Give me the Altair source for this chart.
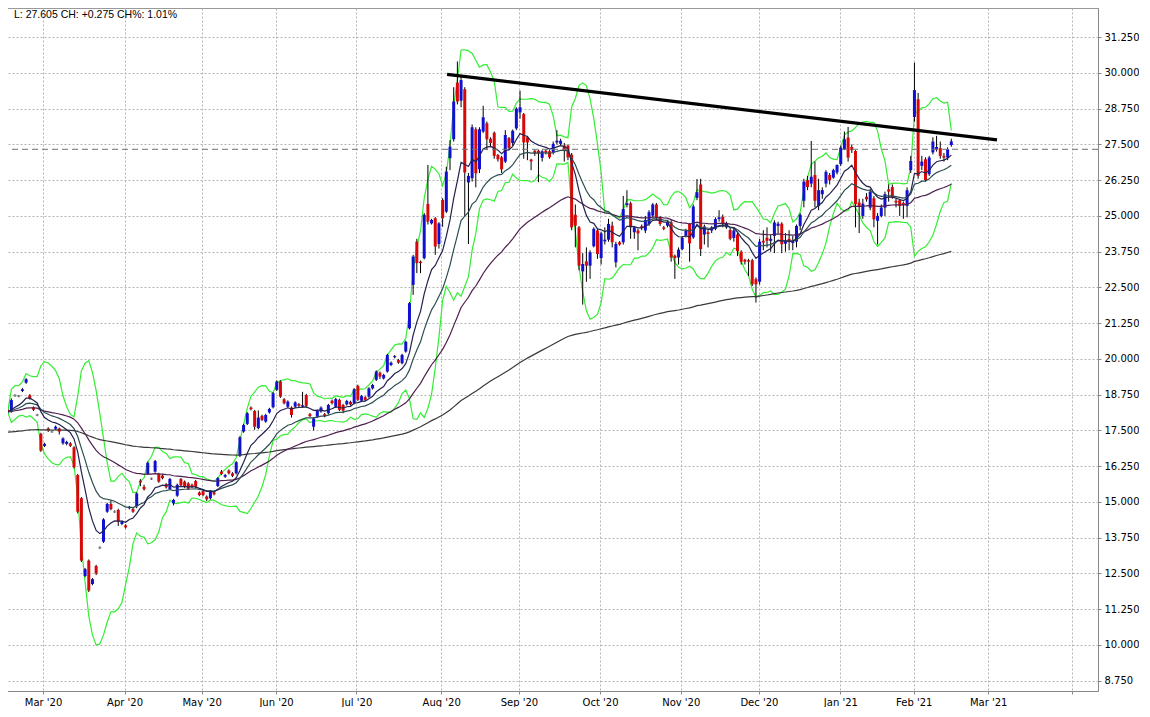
import json
import altair as alt
import pandas as pd

# ---- candle data, one entry per trading day ----
OPEN = [
    18.22, 18.16, 18.72, 18.70, 18.88, 19.17, 18.73, 18.30, 18.04, 17.38,
    16.96, 17.57, 17.46, 17.56, 17.57, 17.05, 17.03, 17.05, 16.91, 15.94,
    15.13, 12.41, 12.95, 12.13, 12.76, 13.40, 13.61, 14.66, 14.93, 14.66,
    14.72, 14.23, 14.18, 14.78, 14.75, 14.86, 15.74, 15.53, 15.98, 15.81,
    16.06, 15.98, 15.92, 15.62, 15.45, 14.95, 15.22, 15.80, 15.71, 15.65,
    15.60, 15.73, 15.33, 15.38, 15.19, 15.13, 15.33, 15.56, 16.06, 15.88,
    16.10, 16.00, 16.00, 16.61, 17.46, 17.73, 18.30, 18.18, 17.58, 18.01,
    17.81, 18.13, 18.31, 18.92, 19.21, 18.59, 18.33, 18.30, 18.33, 18.42,
    18.33, 18.74, 18.07, 17.63, 17.98, 18.16, 18.07, 18.10, 18.54, 18.33,
    18.57, 18.39, 18.41, 18.50, 18.45, 19.06, 18.54, 18.66, 18.68, 18.97,
    19.27, 19.52, 19.32, 19.56, 19.79, 20.06, 19.96, 19.85, 20.26, 21.07,
    22.59, 24.10, 23.40, 23.52, 25.42, 24.74, 24.92, 24.02, 25.56, 25.15,
    27.02, 27.68, 29.66, 29.03, 29.43, 26.17, 26.32, 28.03, 26.63, 27.95,
    28.24, 27.70, 27.91, 27.13, 27.05, 26.90, 27.72, 27.55, 28.06, 28.62,
    28.56, 27.75, 26.97, 27.28, 27.28, 27.03, 27.28, 27.26, 27.22, 27.57,
    27.52, 27.46, 27.46, 27.14, 25.04, 24.60, 23.06, 23.41, 23.26, 23.94,
    24.49, 23.53, 24.11, 24.17, 24.66, 23.38, 24.08, 24.08, 25.38, 25.44,
    24.43, 24.49, 24.64, 24.49, 24.72, 25.01, 25.40, 24.95, 24.60, 24.66,
    24.78, 23.61, 23.55, 23.84, 24.31, 24.72, 24.25, 25.63, 26.10, 24.35,
    24.43, 24.49, 24.55, 24.89, 24.97, 24.60, 24.51, 24.23, 24.35, 23.75,
    23.47, 23.45, 23.45, 22.79, 22.70, 24.13, 24.24, 24.13, 24.30, 24.65,
    24.73, 24.03, 24.20, 24.05, 24.10, 24.65, 25.53, 26.25, 26.13, 26.43,
    25.35, 25.76, 26.13, 26.43, 26.34, 26.52, 26.81, 27.33, 27.74, 27.41,
    27.27, 25.47, 25.00, 25.67, 25.29, 25.62, 24.83, 25.00, 25.29, 25.93,
    26.01, 25.53, 25.55, 25.45, 25.35, 26.60, 28.46, 29.08, 26.75, 26.98,
    26.46, 27.22, 27.33, 27.37, 27.10, 27.04, 27.48,
]
HIGH = [
    18.28, 18.62, 18.76, 18.74, 18.98, 19.33, 18.77, 18.34, 18.08, 17.42,
    17.07, 17.61, 17.50, 17.67, 17.60, 17.26, 17.14, 17.09, 16.95, 15.98,
    15.17, 12.69, 12.99, 12.34, 12.80, 13.44, 14.43, 14.97, 15.05, 14.70,
    14.76, 14.35, 14.22, 14.86, 14.79, 15.34, 15.80, 15.60, 16.41, 15.85,
    16.47, 16.02, 15.96, 15.66, 15.84, 15.11, 15.64, 15.84, 15.75, 15.69,
    15.64, 15.77, 15.37, 15.42, 15.23, 15.42, 15.37, 15.87, 16.12, 15.98,
    16.14, 16.04, 16.43, 17.30, 17.73, 18.14, 18.34, 18.22, 18.20, 18.05,
    18.08, 18.29, 18.84, 19.25, 19.25, 18.63, 18.55, 18.34, 18.52, 18.46,
    18.85, 18.78, 18.11, 17.96, 18.23, 18.34, 18.11, 18.43, 18.58, 18.64,
    18.61, 18.43, 18.57, 18.54, 18.98, 19.10, 18.74, 18.70, 19.01, 19.13,
    19.60, 19.56, 19.48, 20.18, 19.91, 20.14, 20.00, 20.18, 20.64, 21.99,
    23.64, 24.20, 23.44, 25.10, 26.78, 24.90, 24.96, 24.78, 25.62, 26.72,
    27.65, 29.50, 30.40, 29.90, 29.50, 26.50, 28.20, 28.10, 28.10, 28.85,
    28.30, 27.75, 27.95, 27.17, 27.10, 28.00, 27.76, 28.02, 28.80, 29.38,
    28.60, 27.80, 27.00, 27.30, 27.32, 27.30, 27.32, 27.30, 27.60, 28.00,
    27.70, 27.55, 27.50, 27.20, 25.40, 24.65, 23.70, 23.90, 23.80, 24.60,
    24.55, 24.45, 24.60, 24.90, 24.80, 24.10, 24.12, 25.70, 25.90, 25.50,
    24.65, 24.55, 24.70, 25.00, 25.20, 25.45, 25.45, 25.00, 24.65, 24.85,
    24.85, 23.65, 23.90, 24.30, 24.55, 24.75, 25.40, 26.29, 26.30, 24.70,
    24.50, 24.65, 24.95, 25.20, 25.05, 24.80, 24.60, 24.60, 24.40, 23.80,
    23.50, 23.50, 23.50, 22.85, 24.20, 24.50, 24.60, 24.35, 24.85, 24.80,
    24.78, 24.40, 24.50, 24.30, 24.70, 25.10, 26.30, 26.40, 27.62, 26.90,
    26.30, 26.00, 26.60, 26.50, 26.65, 26.80, 27.45, 27.95, 28.11, 27.50,
    27.30, 25.60, 25.60, 25.80, 25.95, 25.70, 25.10, 25.40, 25.85, 26.10,
    26.10, 25.60, 25.60, 25.50, 26.00, 27.10, 30.36, 29.30, 27.10, 27.05,
    27.10, 27.75, 27.80, 27.60, 27.20, 27.40, 27.70,
]
LOW = [
    18.08, 18.12, 18.68, 18.66, 18.84, 19.13, 18.58, 18.18, 18.00, 16.75,
    16.92, 17.45, 17.42, 17.52, 17.36, 17.00, 16.98, 16.92, 16.17, 14.60,
    12.90, 12.37, 11.85, 12.09, 12.44, 13.36, 13.57, 14.62, 14.71, 14.62,
    14.16, 14.19, 14.07, 14.74, 14.62, 14.78, 15.55, 15.40, 15.94, 15.77,
    16.02, 15.67, 15.79, 15.47, 15.41, 14.88, 15.18, 15.54, 15.49, 15.42,
    15.49, 15.49, 15.20, 15.20, 15.03, 15.09, 15.23, 15.52, 15.94, 15.84,
    15.96, 15.87, 15.96, 16.57, 17.42, 17.69, 18.20, 17.52, 17.54, 17.83,
    17.77, 18.09, 18.27, 18.88, 18.64, 18.41, 18.29, 17.95, 18.29, 18.32,
    18.29, 18.30, 17.96, 17.50, 17.94, 18.12, 17.96, 18.06, 18.41, 18.29,
    18.18, 18.10, 18.37, 18.37, 18.41, 18.53, 18.50, 18.53, 18.64, 18.93,
    19.23, 19.30, 19.28, 19.52, 19.75, 20.02, 19.83, 19.81, 20.22, 21.03,
    22.24, 23.00, 23.00, 23.48, 24.70, 24.70, 23.64, 23.86, 24.62, 25.10,
    26.60, 27.60, 28.90, 28.80, 25.00, 24.02, 26.20, 26.00, 26.50, 27.90,
    27.30, 27.40, 27.00, 26.90, 26.50, 26.85, 27.30, 27.45, 28.00, 28.40,
    27.00, 26.95, 26.60, 27.10, 26.18, 26.90, 27.15, 27.00, 27.15, 27.50,
    27.45, 26.90, 26.95, 24.50, 23.90, 23.10, 21.90, 22.70, 22.80, 23.90,
    23.50, 23.30, 24.00, 24.10, 23.90, 23.20, 23.96, 24.00, 25.30, 24.20,
    24.20, 23.80, 24.50, 24.40, 24.65, 24.95, 24.85, 24.65, 24.50, 24.60,
    23.40, 22.80, 23.30, 23.80, 24.25, 23.40, 24.20, 25.55, 23.60, 24.00,
    23.90, 24.40, 24.50, 24.80, 24.60, 24.55, 24.15, 24.10, 23.60, 23.30,
    23.30, 22.90, 22.55, 21.97, 22.60, 23.80, 23.90, 23.75, 23.70, 24.40,
    23.70, 23.75, 23.80, 23.80, 23.90, 24.50, 25.30, 25.90, 26.00, 25.30,
    25.20, 25.60, 26.00, 26.10, 26.30, 26.45, 26.75, 27.30, 26.90, 27.20,
    24.60, 24.40, 24.90, 25.50, 25.20, 24.60, 24.00, 24.95, 25.00, 25.50,
    25.60, 25.30, 25.00, 24.90, 24.95, 26.50, 28.30, 26.30, 26.60, 26.20,
    26.40, 27.15, 27.25, 27.00, 26.90, 26.95, 27.42,
]
CLOSE = [
    18.15, 18.56, 18.72, 18.70, 18.94, 19.29, 18.62, 18.22, 18.04, 16.79,
    17.03, 17.49, 17.46, 17.63, 17.46, 17.22, 17.10, 16.96, 16.21, 14.66,
    12.95, 12.65, 11.90, 12.30, 12.50, 13.40, 14.39, 14.93, 14.75, 14.66,
    14.31, 14.31, 14.11, 14.82, 14.66, 15.30, 15.68, 15.44, 16.37, 15.81,
    16.43, 15.71, 15.83, 15.51, 15.80, 15.07, 15.60, 15.58, 15.53, 15.46,
    15.53, 15.53, 15.24, 15.24, 15.09, 15.38, 15.27, 15.83, 15.98, 15.94,
    16.00, 15.91, 16.39, 17.26, 17.69, 18.10, 18.24, 17.63, 17.95, 17.87,
    18.04, 18.25, 18.80, 19.21, 18.68, 18.45, 18.51, 18.04, 18.48, 18.36,
    18.38, 18.36, 18.00, 17.92, 18.19, 18.30, 18.00, 18.39, 18.45, 18.60,
    18.22, 18.19, 18.53, 18.41, 18.94, 18.57, 18.70, 18.57, 18.97, 19.09,
    19.56, 19.38, 19.44, 20.14, 19.87, 20.10, 19.87, 20.14, 20.60, 21.95,
    23.58, 23.35, 23.35, 25.04, 24.80, 24.86, 23.93, 24.74, 24.92, 26.55,
    27.42, 29.00, 29.00, 29.75, 26.52, 26.40, 28.10, 26.49, 28.03, 28.45,
    27.68, 27.55, 27.10, 26.98, 26.63, 27.83, 27.38, 27.98, 28.75, 28.80,
    27.57, 27.57, 26.91, 27.19, 27.19, 27.26, 27.22, 27.05, 27.52, 27.63,
    27.63, 27.28, 27.05, 24.60, 24.66, 23.26, 23.32, 23.26, 23.73, 24.55,
    23.67, 24.39, 24.17, 24.72, 24.08, 24.02, 24.00, 25.24, 25.44, 24.60,
    24.60, 24.39, 24.58, 24.86, 25.13, 25.40, 24.93, 24.72, 24.55, 24.78,
    23.55, 23.53, 23.82, 24.23, 24.49, 24.04, 25.33, 25.83, 23.84, 24.63,
    24.37, 24.60, 24.89, 24.95, 24.72, 24.72, 24.20, 24.49, 23.77, 23.40,
    23.40, 23.40, 22.61, 22.61, 24.10, 24.07, 24.13, 24.20, 24.77, 24.73,
    24.01, 24.13, 24.08, 24.12, 24.65, 25.04, 26.20, 26.01, 26.37, 25.53,
    25.90, 25.90, 26.54, 26.25, 26.60, 26.78, 27.39, 27.68, 27.04, 27.30,
    25.41, 25.32, 25.43, 25.58, 25.85, 24.88, 25.00, 25.29, 25.76, 25.85,
    25.64, 25.47, 25.35, 25.38, 25.90, 26.92, 29.40, 26.40, 26.90, 26.25,
    27.04, 27.60, 27.41, 27.10, 27.04, 27.33, 27.605,
]

# ---- axis ticks / labels ----
MONTH_TICKS = [9.6, 31.7, 52.6, 72.8, 94.6, 117.6, 138.7, 160.7, 182.6,
               203.8, 225.9, 245.8, 266.0, 288.8]
MONTH_LABELS = ["Mar '20", "Apr '20", "May '20", "Jun '20", "Jul '20",
                "Aug '20", "Sep '20", "Oct '20", "Nov '20", "Dec '20",
                "Jan '21", "Feb '21", "Mar '21", ""]
Y_TICKS = [8.75, 10.0, 11.25, 12.5, 13.75, 15.0, 16.25, 17.5, 18.75, 20.0,
           21.25, 22.5, 23.75, 25.0, 26.25, 27.5, 28.75, 30.0, 31.25]

# ---- header / annotations ----
LAST = 27.605
CHANGE = 0.275
CHANGE_PCT = 1.01
TREND_X = [119.2, 268.4]
TREND_Y = [29.95, 27.66]
EMA200_START = 17.43   # first value of the slow average

# ---- indicators derived from the closes ----
def ema(vals, span, seed):
    a = 2.0 / (span + 1.0)
    e = seed
    out = []
    for v in vals:
        e = e + a * (v - e)
        out.append(e)
    return out

n = len(CLOSE)
s = pd.Series(CLOSE)
bb_mid = s.rolling(10, min_periods=1).mean()
bb_sd = s.rolling(10, min_periods=2).std().fillna(0.0)

df = pd.DataFrame({
    "i": list(range(n)),
    "open": OPEN, "high": HIGH, "low": LOW, "close": CLOSE,
})
df["dir"] = ["up" if c > o else ("down" if c < o else "flat")
             for o, c in zip(OPEN, CLOSE)]
df["ema10"] = ema(CLOSE, 10, CLOSE[0])
df["ema20"] = ema(CLOSE, 20, CLOSE[0])
df["ema50"] = ema(CLOSE, 50, CLOSE[0])
df["ema200"] = ema(CLOSE, 200, EMA200_START)
df["bb_up"] = bb_mid + 2 * bb_sd
df["bb_lo"] = bb_mid - 2 * bb_sd

W, H = 1097, 683
xscale = alt.Scale(domain=[-0.457, 294.44], nice=False, zero=False)
yscale = alt.Scale(domain=[8.39, 32.27], nice=False, zero=False)

label_expr = f"{json.dumps(MONTH_LABELS)}[indexof({json.dumps(MONTH_TICKS)}, datum.value)]"
xaxis = alt.Axis(values=MONTH_TICKS, labelExpr=label_expr, grid=True,
                 labelFlush=False, labelOverlap=False, title=None,
                 orient="bottom")
yaxis = alt.Axis(values=Y_TICKS, format=".3f", grid=True, orient="right",
                 labelFlush=False, labelOverlap=False, title=None)

X = alt.X("i:Q", scale=xscale, axis=xaxis)
base = alt.Chart(df)

def line(field, color, width):
    return base.mark_line(color=color, strokeWidth=width).encode(
        x=X, y=alt.Y(f"{field}:Q", scale=yscale, axis=yaxis))

GREEN = "#33ee33"
bb_up = line("bb_up", GREEN, 1.2)
bb_lo = line("bb_lo", GREEN, 1.2)

wicks = base.mark_rule(color="#000000", strokeWidth=1).encode(
    x=X, y=alt.Y("low:Q", scale=yscale, axis=yaxis), y2="high:Q")

bodies = base.transform_filter("datum.dir != 'flat'").mark_bar(size=3).encode(
    x=X, y=alt.Y("open:Q", scale=yscale, axis=yaxis), y2="close:Q",
    color=alt.Color("dir:N", scale=alt.Scale(domain=["up", "down"],
                                             range=["#1010d0", "#d80808"]),
                    legend=None))

flats = base.transform_filter("datum.dir == 'flat'").mark_tick(
    orient="horizontal", size=3, thickness=2, color="#8c8c8c").encode(
    x=X, y=alt.Y("close:Q", scale=yscale, axis=yaxis))

ema200 = line("ema200", "#3a3a3a", 1.2)
ema50 = line("ema50", "#4e1f4e", 1.2)
ema20 = line("ema20", "#2c4e50", 1.2)
ema10 = line("ema10", "#22224f", 1.2)

trend = alt.Chart(pd.DataFrame({"x": TREND_X, "y": TREND_Y})).mark_line(
    color="#000000", strokeWidth=3.2).encode(
    x=alt.X("x:Q", scale=xscale, axis=xaxis),
    y=alt.Y("y:Q", scale=yscale, axis=yaxis))

prev = alt.Chart(pd.DataFrame({"y": [round(LAST - CHANGE, 3)]})).mark_rule(
    color="#707070", strokeDash=[6, 4], strokeWidth=1).encode(
    y=alt.Y("y:Q", scale=yscale, axis=yaxis))

header = f"L: {LAST:.3f} CH: {CHANGE:+.3f} CH%: {CHANGE_PCT:.2f}%"
text = alt.Chart(pd.DataFrame({"t": [header]})).mark_text(
    align="left", baseline="top", font="Liberation Sans", fontSize=10.5,
    color="#000000").encode(x=alt.value(13), y=alt.value(2), text="t:N")

chart = alt.layer(
    bb_up, bb_lo, wicks, bodies, flats, ema200, ema50, ema20, ema10,
    trend, prev, text
).properties(
    width=W, height=H,
    padding={"left": -8, "top": 0, "right": 0, "bottom": 0}
).configure_axis(
    domainColor="#888888", tickColor="#888888", labelColor="#000000",
    labelFont="DejaVu Sans", labelFontSize=10, gridColor="#b4b4b4",
    gridDash=[2, 2], gridOpacity=1, gridWidth=1, tickSize=3, labelPadding=3,
    domainWidth=1
).configure_view(stroke="#999999")

chart.save("out.html", embed_options={"renderer": "svg", "actions": False})
